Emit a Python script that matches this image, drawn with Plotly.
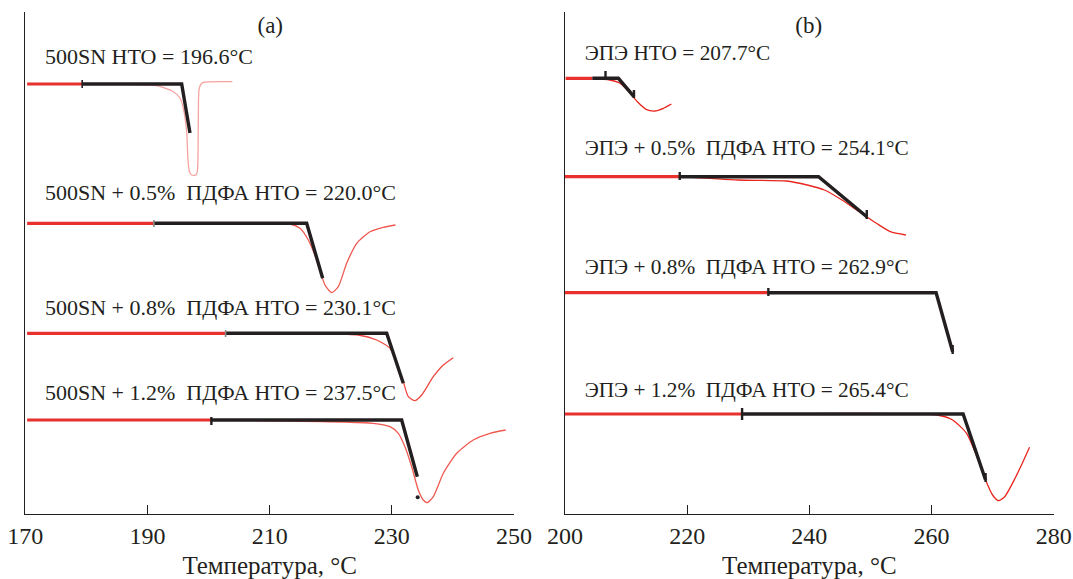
import plotly.graph_objects as go

# ---------------- Panel (a): 500SN ----------------
a_labels = ["500SN НТО = 196.6°C",
            "500SN + 0.5%  ПДФА НТО = 220.0°C",
            "500SN + 0.8%  ПДФА НТО = 230.1°C",
            "500SN + 1.2%  ПДФА НТО = 237.5°C"]
a_label_T = [173.22, 173.22, 173.22, 173.22]
a_label_y = [456, 320, 205, 120]
a_base_y = [430, 290.7, 180.7, 94]
a_start_T = [170.3, 170.3, 170.3, 170.3]
a_tick_T = [179.31, 191.05, 202.79, 200.46]
a_corner_T = [195.60, 216.06, 229.16, 231.61]
a_end_T = [196.96, 218.68, 231.88, 234.17]
a_end_y = [381, 235.7, 130.7, 37.3]

a1_T = [179.3, 191.51, 194.23, 195.32, 195.86, 196.42, 196.63, 196.88, 197.24, 197.94,
        198.19, 198.32, 198.43, 198.76, 199.14, 203.9]
a1_y = [430, 428.3, 422.3, 416, 406, 382.3, 354, 342, 339, 339, 344, 394, 424, 430, 431.7, 432.3]
a2_T = [191.0, 213.33, 214.97, 216.33, 217.70, 219.06, 220.16, 221.24, 222.61, 224.25, 226.43, 228.60, 230.6]
a2_y = [290.7, 290, 285.7, 274, 254, 229, 221.3, 227.3, 250.7, 270.7, 282.3, 286.7, 289]
a3_T = [202.8, 224.51, 227.52, 229.70, 230.80, 231.88, 232.70, 233.79, 234.89, 236.79, 238.43, 240.06]
a3_y = [180.7, 179, 174, 165.7, 150.7, 132.3, 117.3, 113.3, 119, 137.3, 149, 156.3]
a4_T = [200.5, 226.97, 229.70, 231.06, 232.15, 233.25, 234.33, 235.15, 235.80, 236.79, 238.43,
        240.62, 243.33, 246.07, 248.64]
a4_y = [94, 90.7, 87.3, 80.7, 67.3, 47.3, 24, 14, 11.3, 17.3, 40.7, 60.7, 74, 80.7, 84]
a_thin_T = [a1_T, a2_T, a3_T, a4_T]
a_thin_y = [a1_y, a2_y, a3_y, a4_y]
a_thin_color = ["#f6a3a0", "#ee5a52", "#ee4a44", "#ef5a52"]
a_tick_lo = [426, 287, 177, 89]
a_tick_hi = [434, 294, 184, 97]
a_tick_color = ["#231f20", "#8a8a8a", "#8a8a8a", "#231f20"]
a_dot_T = [234.23]
a_dot_y = [16.7]

# ---------------- Panel (b): ЭПЭ ----------------
b_labels = ["ЭПЭ НТО = 207.7°C",
            "ЭПЭ + 0.5%  ПДФА НТО = 254.1°C",
            "ЭПЭ + 0.8%  ПДФА НТО = 262.9°C",
            "ЭПЭ + 1.2%  ПДФА НТО = 265.4°C"]
b_label_T = [203.22, 203.22, 203.22, 203.22]
b_label_y = [459.7, 364, 245.7, 122.3]
b_base_y = [435.7, 337.3, 221.3, 100]
b_start_T = [200.1, 200.0, 200.0, 200.0]
b_tick_T = [204.48, 218.78, 233.29, 228.99]
b_mark_T = [206.63, 218.78, 233.29, 228.99]
b_corner_T = [208.74, 241.51, 260.75, 265.17]
b_end_T = [211.29, 249.40, 263.46, 268.85]
b_end_y = [417.3, 297.3, 162.3, 34]
b_mark_lo = [434, 334, 218, 94]
b_mark_hi = [443, 342, 226, 106]
b_endmark_lo = [416, 295, 160, 32]
b_endmark_hi = [424, 304, 169, 41]

b1_T = [204.5, 207.32, 209.0, 210.44, 211.85, 213.28, 214.68, 216.11, 217.42]
b1_y = [435.7, 434, 430.7, 422.3, 412.3, 404.7, 403, 405.7, 410]
b2_T = [218.8, 228.30, 236.24, 239.65, 242.48, 245.33, 248.16, 250.99, 253.27, 255.80]
b2_y = [337.3, 334, 333, 329, 324, 314, 302.3, 290.7, 282.3, 279]
b4_T = [229.0, 260.91, 263.46, 265.74, 267.44, 268.85, 269.99, 270.96, 271.98, 273.68, 275.10, 276.05]
b4_y = [100, 99, 94, 80.7, 57.3, 34, 19, 13.3, 17.3, 35.7, 54, 66.7]
b_thin_T = [b1_T, b2_T, None, b4_T]
b_thin_y = [b1_y, b2_y, None, b4_y]

panel_titles = ["(a)", "(b)"]
panel_title_T = [210.1, 239.9]
panel_title_y = [487, 487]

RED = "#e8312c"
BLACK = "#231f20"
FONT = "Liberation Serif"

fig = go.Figure()


def add_panel(xa, ya, thin_T, thin_y, thin_colors, start_T, tick_T, base_y,
              corner_T, end_T, end_y):
    for i in range(4):
        if thin_T[i] is not None:
            fig.add_trace(go.Scatter(x=thin_T[i], y=thin_y[i], mode="lines",
                                     line=dict(color=thin_colors[i], width=1.3, shape="spline", smoothing=0.6),
                                     xaxis=xa, yaxis=ya, showlegend=False, hoverinfo="skip"))
        fig.add_trace(go.Scatter(x=[start_T[i], tick_T[i]], y=[base_y[i], base_y[i]], mode="lines",
                                 line=dict(color=RED, width=3.2),
                                 xaxis=xa, yaxis=ya, showlegend=False, hoverinfo="skip"))
        fig.add_trace(go.Scatter(x=[tick_T[i], corner_T[i], end_T[i]],
                                 y=[base_y[i], base_y[i], end_y[i]], mode="lines",
                                 line=dict(color=BLACK, width=3.4),
                                 xaxis=xa, yaxis=ya, showlegend=False, hoverinfo="skip"))


add_panel("x", "y", a_thin_T, a_thin_y, a_thin_color, a_start_T, a_tick_T, a_base_y,
          a_corner_T, a_end_T, a_end_y)
add_panel("x2", "y2", b_thin_T, b_thin_y, ["#e8261f"] * 4, b_start_T, b_tick_T, b_base_y,
          b_corner_T, b_end_T, b_end_y)

# small vertical marks on the curves
for i in range(4):
    fig.add_trace(go.Scatter(x=[a_tick_T[i], a_tick_T[i]], y=[a_tick_lo[i], a_tick_hi[i]], mode="lines",
                             line=dict(color=a_tick_color[i], width=1.6 if i < 3 else 2.4),
                             xaxis="x", yaxis="y", showlegend=False, hoverinfo="skip"))
    fig.add_trace(go.Scatter(x=[b_mark_T[i], b_mark_T[i]], y=[b_mark_lo[i], b_mark_hi[i]], mode="lines",
                             line=dict(color=BLACK, width=2.4),
                             xaxis="x2", yaxis="y2", showlegend=False, hoverinfo="skip"))
    fig.add_trace(go.Scatter(x=[b_end_T[i], b_end_T[i]], y=[b_endmark_lo[i], b_endmark_hi[i]], mode="lines",
                             line=dict(color=BLACK, width=2.4),
                             xaxis="x2", yaxis="y2", showlegend=False, hoverinfo="skip"))
fig.add_trace(go.Scatter(x=a_dot_T, y=a_dot_y, mode="markers",
                         marker=dict(color=BLACK, size=4),
                         xaxis="x", yaxis="y", showlegend=False, hoverinfo="skip"))

# curve labels as text traces
fig.add_trace(go.Scatter(x=a_label_T, y=a_label_y, text=a_labels, mode="text",
                         textposition="middle right",
                         textfont=dict(family=FONT, size=22, color=BLACK),
                         xaxis="x", yaxis="y", showlegend=False, hoverinfo="skip", cliponaxis=False))
fig.add_trace(go.Scatter(x=b_label_T, y=b_label_y, text=b_labels, mode="text",
                         textposition="middle right",
                         textfont=dict(family=FONT, size=21.3, color=BLACK),
                         xaxis="x2", yaxis="y2", showlegend=False, hoverinfo="skip", cliponaxis=False))
fig.add_trace(go.Scatter(x=[panel_title_T[0]], y=[panel_title_y[0]], text=[panel_titles[0]], mode="text",
                         textposition="middle center",
                         textfont=dict(family=FONT, size=23, color=BLACK),
                         xaxis="x", yaxis="y", showlegend=False, hoverinfo="skip", cliponaxis=False))
fig.add_trace(go.Scatter(x=[panel_title_T[1]], y=[panel_title_y[1]], text=[panel_titles[1]], mode="text",
                         textposition="middle center",
                         textfont=dict(family=FONT, size=23, color=BLACK),
                         xaxis="x2", yaxis="y2", showlegend=False, hoverinfo="skip", cliponaxis=False))

ydom = [65 / 579, 567 / 579]
xcommon = dict(showline=True, linecolor=BLACK, linewidth=1.4, ticks="inside", ticklen=9,
               tickwidth=1.4, tickcolor=BLACK, showgrid=False, zeroline=False,
               tickfont=dict(family=FONT, size=24, color=BLACK),
               title=dict(text="Температура, °C", font=dict(family=FONT, size=25, color=BLACK),
                          standoff=8),
               automargin=False, mirror=False)
ycommon = dict(showline=True, linecolor=BLACK, linewidth=1.4, ticks="", showticklabels=False,
               showgrid=False, zeroline=False, range=[0, 502], domain=ydom, automargin=False)

fig.update_layout(
    width=1073, height=579,
    margin=dict(l=0, r=0, t=0, b=0),
    paper_bgcolor="white", plot_bgcolor="white",
    template="none",
    font=dict(family=FONT, color=BLACK),
    showlegend=False,
    xaxis=dict(xcommon, range=[170, 250], tickvals=[170, 190, 210, 230, 250],
               domain=[25.3 / 1073, 514 / 1073], anchor="y"),
    yaxis=dict(ycommon, anchor="x"),
    xaxis2=dict(xcommon, range=[200, 280], tickvals=[200, 220, 240, 260, 280],
                domain=[565 / 1073, 1053.7 / 1073], anchor="y2"),
    yaxis2=dict(ycommon, anchor="x2"),
)

fig.write_html("out.html", config={"displayModeBar": False},
               post_script="document.body.style.margin='0';document.body.style.padding='0';"
                           "document.body.style.overflow='hidden';")
